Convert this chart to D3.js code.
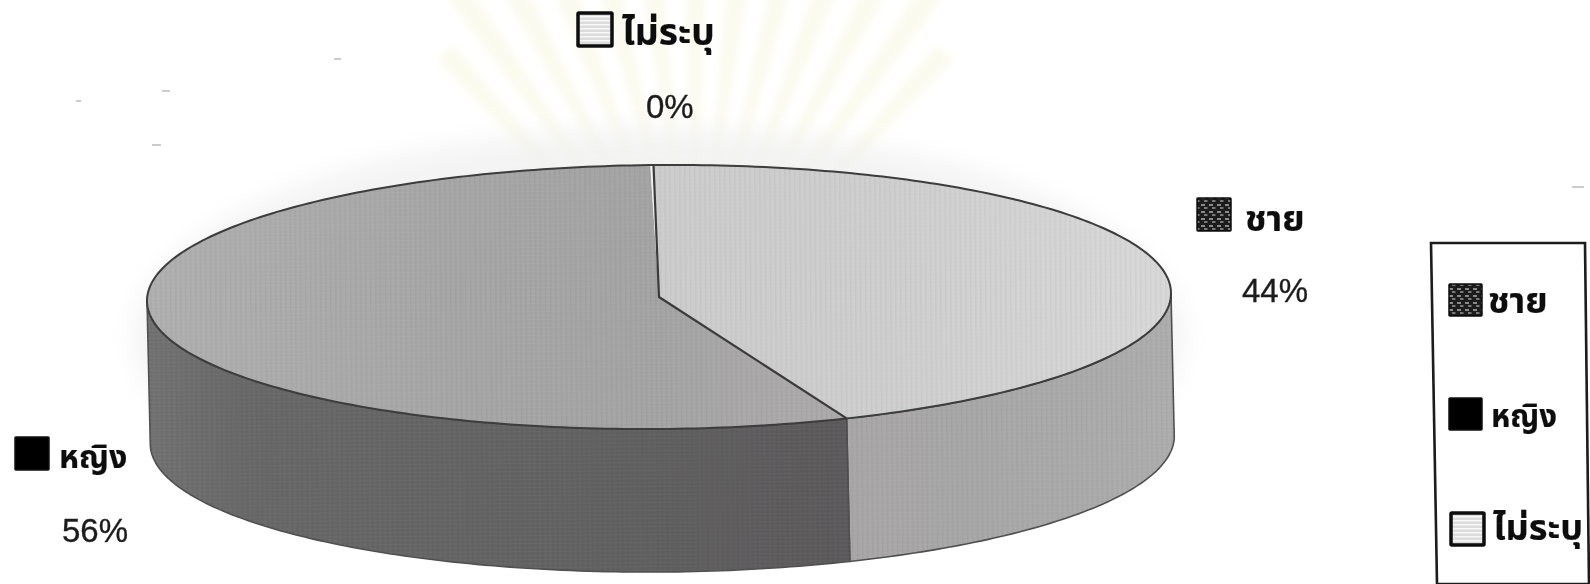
<!DOCTYPE html>
<html>
<head>
<meta charset="utf-8">
<script src="https://cdn.jsdelivr.net/npm/d3@7"></script>
<style>
html,body{margin:0;padding:0;background:#fff;overflow:hidden}
text{font-family:"Liberation Sans",Arial,sans-serif;fill:#1c1c1c;stroke:#1c1c1c;stroke-width:.35}
.thai{font-family:"Noto Sans Thai","Noto Sans","DejaVu Sans",sans-serif;font-weight:700;fill:#111;stroke-width:.2}
</style>
</head>
<body>
<script>
const categories = ["ชาย","หญิง","ไม่ระบุ"]
const values = [44.2,55.7,0.1]
const topColors = ["url(#topMale)","url(#topFemale)","#f0f0f0"]
const sideColors = ["url(#sideMale)","url(#sideFemale)","#e0e0e0"]
const swatchFills = ["url(#swatchMale)","#050505","url(#swatchNone)"]

const width = 1590
const height = 584

const cx = 659, cy = 297, rx = 512, ry = 132, depth = 143

const svg = d3.select("body")
    .append("svg")
    .attr("width",width)
    .attr("height",height)
    .attr("viewBox",`0 0 ${width} ${height}`)
    .style("display","block")

const defs = svg.append("defs")

defs.append("filter").attr("id","soft").attr("x","-5%").attr("y","-5%").attr("width","110%").attr("height","110%")
    .append("feGaussianBlur").attr("stdDeviation",.6)
defs.append("filter").attr("id","softText").attr("x","-10%").attr("y","-20%").attr("width","120%").attr("height","140%")
    .append("feGaussianBlur").attr("stdDeviation",.5)
defs.append("filter").attr("id","glow").attr("x","-20%").attr("y","-40%").attr("width","140%").attr("height","180%")
    .append("feGaussianBlur").attr("stdDeviation",12)
defs.append("filter").attr("id","ray").attr("filterUnits","userSpaceOnUse")
    .attr("x",300).attr("y",-40).attr("width",800).attr("height",400)
    .append("feGaussianBlur").attr("stdDeviation",4)

function gradient(id,stops){
    const g = defs.append("linearGradient").attr("id",id).attr("gradientUnits","userSpaceOnUse")
        .attr("x1",cx-rx).attr("x2",cx+rx).attr("y1",0).attr("y2",0)
    stops.forEach(s=>g.append("stop").attr("offset",s[0]).attr("stop-color",s[1]))
}
gradient("topMale",[[0.5,"#cccccc"],[.72,"#cecece"],[1,"#d8d8d8"]])
gradient("topFemale",[[0,"#b0b0b0"],[.3,"#a6a6a6"],[.5,"#a4a4a4"],[.62,"#aca9ab"]])
gradient("sideFemale",[[0,"#727272"],[.1,"#686868"],[.4,"#636363"],[.68,"#5c5a5b"]])
gradient("sideMale",[[.67,"#aaa6a8"],[.8,"#a7a7a7"],[1,"#adadad"]])

// scan texture, thin vertical lines
const stripes = defs.append("pattern").attr("id","stripes").attr("patternUnits","userSpaceOnUse")
    .attr("width",5).attr("height",4)
stripes.append("rect").attr("width",1.5).attr("height",4).attr("fill","#000").attr("opacity",.035)
stripes.append("rect").attr("y",2).attr("width",5).attr("height",1).attr("fill","#fff").attr("opacity",.03)

const male = defs.append("pattern").attr("id","swatchMale").attr("patternUnits","userSpaceOnUse")
    .attr("width",8).attr("height",7)
male.append("rect").attr("width",8).attr("height",7).attr("fill","#1c1c1c")
male.append("rect").attr("x",1).attr("y",1).attr("width",4).attr("height",2).attr("fill","#8a8a8a")
male.append("rect").attr("x",4).attr("y",4).attr("width",3.5).attr("height",2).attr("fill","#777")

const none = defs.append("pattern").attr("id","swatchNone").attr("patternUnits","userSpaceOnUse")
    .attr("width",6).attr("height",4)
none.append("rect").attr("width",6).attr("height",4).attr("fill","#dcdcdc")
none.append("rect").attr("y",0).attr("width",6).attr("height",1.5).attr("fill","#f8f8f8")

// faint watermark behind the chart
const wm = svg.append("g").attr("filter","url(#ray)")
d3.range(-42,43,7).forEach(a=>{
    const t = a*Math.PI/180
    const far = Math.min(340/Math.cos(t),250/Math.max(.01,Math.abs(Math.sin(t))))
    const p = (r,o)=>[695+r*Math.sin(t+o),330-r*Math.cos(t+o)]
    wm.append("path")
        .attr("d",d3.line()([p(100,-.014),p(far,-.03),p(far,.03),p(100,.014)]))
        .attr("fill","#fbfaef")
})

svg.append("ellipse")
    .attr("cx",cx).attr("cy",cy+40).attr("rx",rx+14).attr("ry",ry+76)
    .attr("fill","#efefef").attr("opacity",.7).attr("filter","url(#glow)")

// small specks from the scan
const specks = [[334,59,7],[76,101,5],[162,91,8],[152,145,9],[1572,187,12]]
svg.append("g").selectAll("line").data(specks).join("line")
    .attr("x1",d=>d[0]).attr("x2",d=>d[0]+d[2]).attr("y1",d=>d[1]).attr("y2",d=>d[1])
    .attr("stroke","#aaa").attr("stroke-width",1.2)

const pie = d3.pie().sort(null)
    .startAngle(-0.5*Math.PI/180)
    .endAngle(359.5*Math.PI/180)
const slices = pie(values).map((s,i)=>({...s,index:i,label:categories[i]}))

// the scan leans a little, lower rim sits to the right of the upper one
const point = (a,dz=0)=>[cx+rx*Math.sin(a)+dz*.015,cy-ry*Math.cos(a)+dz]
const step = Math.PI/180
const arcPoints = (a0,a1,dz)=>{
    const n = Math.max(2,Math.ceil(Math.abs(a1-a0)/step))
    return d3.range(n+1).map(i=>point(a0+(a1-a0)*i/n,dz))
}
const line = d3.line()

const chart = svg.append("g").attr("filter","url(#soft)")
    .append("g").attr("transform",`rotate(-.45 ${cx} ${cy})`)

// side walls, only the front half shows
const front = [Math.PI/2,3*Math.PI/2]
function sidePath(d){
    const a0 = Math.max(d.startAngle,front[0]), a1 = Math.min(d.endAngle,front[1])
    if(a1<=a0) return null
    return line([...arcPoints(a0,a1,0),...arcPoints(a1,a0,depth)])+"Z"
}
const sides = slices.filter(d=>sidePath(d))
chart.selectAll(".side").data(sides).join("path").attr("class","side")
    .attr("d",sidePath).attr("fill",d=>sideColors[d.index])
    .attr("stroke","#505050").attr("stroke-width",1.6).attr("stroke-linejoin","round")
chart.selectAll(".sideTex").data(sides).join("path").attr("class","sideTex")
    .attr("d",sidePath).attr("fill","url(#stripes)")

// top faces
function topPath(d){
    return line([[cx,cy],...arcPoints(d.startAngle,d.endAngle,0)])+"Z"
}
chart.selectAll(".top").data(slices).join("path").attr("class","top")
    .attr("d",topPath).attr("fill",d=>topColors[d.index])
chart.selectAll(".topTex").data(slices.slice(0,2)).join("path").attr("class","topTex")
    .attr("d",topPath).attr("fill","url(#stripes)")

// rim and the two radial edges of the first slice, the sliver has no dark edge of its own
chart.append("path")
    .attr("d",line(arcPoints(0,2*Math.PI,0))+"Z")
    .attr("fill","none").attr("stroke","#3c3c3c").attr("stroke-width",2)
chart.append("path")
    .attr("d",line([point(slices[0].startAngle),[cx,cy],point(slices[0].endAngle)]))
    .attr("fill","none").attr("stroke","#3a3a3a").attr("stroke-width",2.2).attr("stroke-linejoin","round")

// data labels
const labelPos = [
    {sw:[1197,198],tx:1245,ty:231,size:36,px:1242,py:302},
    {sw:[15,437],tx:59,ty:468,size:32,px:62,py:542},
    {sw:[578,13],tx:622,ty:45,size:37,px:646,py:118}
]
const labels = svg.append("g").attr("filter","url(#softText)")
const labelG = labels.selectAll(".lab").data(slices).join("g").attr("class","lab")
labelG.append("rect")
    .attr("x",(d,i)=>labelPos[i].sw[0]).attr("y",(d,i)=>labelPos[i].sw[1])
    .attr("width",34).attr("height",33).attr("rx",1)
    .attr("fill",(d,i)=>swatchFills[i]).attr("stroke","#0a0a0a").attr("stroke-width",(d,i)=>i===2?3.5:1.5)
labelG.append("text").attr("class","thai")
    .attr("x",(d,i)=>labelPos[i].tx).attr("y",(d,i)=>labelPos[i].ty)
    .attr("font-size",(d,i)=>labelPos[i].size).text(d=>d.label)
labelG.append("text")
    .attr("x",(d,i)=>labelPos[i].px).attr("y",(d,i)=>labelPos[i].py)
    .attr("font-size",33).text(d=>Math.round(d.value)+"%")

// legend
const legendPos = [[1449,284,1488,313,36],[1449,398,1491,427,31],[1451,513,1493,540,36]]
const legend = svg.append("g").attr("filter","url(#softText)")
legend.append("path")
    .attr("d",line([[1431,243],[1585,243],[1589,584],[1437,584]])+"Z")
    .attr("fill","none").attr("stroke","#1a1a1a").attr("stroke-width",2.6)
const legendG = legend.selectAll(".leg").data(categories).join("g").attr("class","leg")
legendG.append("rect")
    .attr("x",(d,i)=>legendPos[i][0]).attr("y",(d,i)=>legendPos[i][1])
    .attr("width",33).attr("height",32).attr("rx",1)
    .attr("fill",(d,i)=>swatchFills[i]).attr("stroke","#0a0a0a").attr("stroke-width",(d,i)=>i===2?3.5:1.5)
legendG.append("text").attr("class","thai")
    .attr("x",(d,i)=>legendPos[i][2]).attr("y",(d,i)=>legendPos[i][3])
    .attr("font-size",(d,i)=>legendPos[i][4]).text(d=>d)
</script>
</body>
</html>
